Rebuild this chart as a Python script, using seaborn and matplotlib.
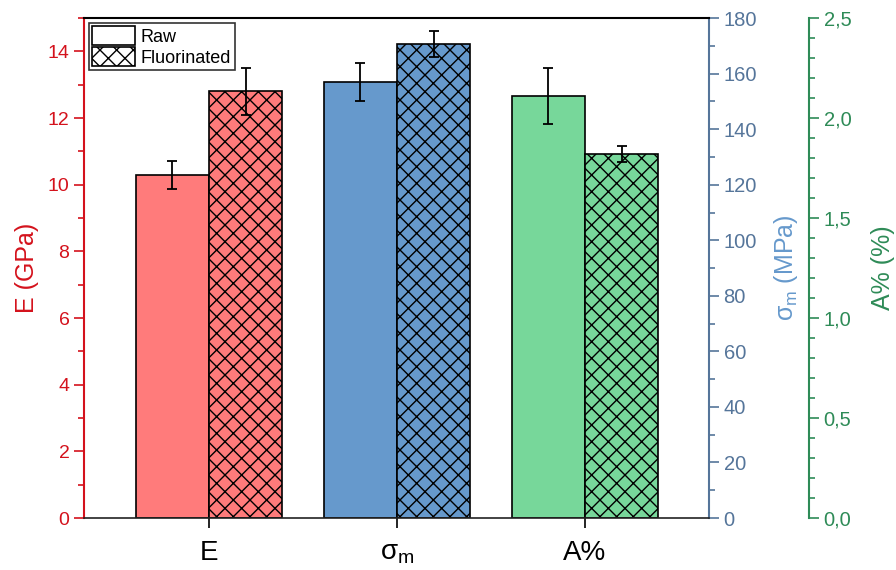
import seaborn as sns
import matplotlib.pyplot as plt
from matplotlib.ticker import MultipleLocator, FuncFormatter
from matplotlib.patches import Patch
import pandas as pd

# ---------- data ----------
props = ['E', 'σm', 'A%']
conds = ['Raw', 'Fluorinated']
E_mean = [10.3, 12.8]
E_err = [0.42, 0.70]
sig_mean = [157.0, 170.6]
sig_err = [6.7, 4.6]
A_mean = [2.11, 1.818]
A_err = [0.14, 0.04]

red = '#FF7B7B'
blue = '#6699CC'
green = '#77D79A'
c_red = '#D4121C'
c_blue = '#55759A'
c_blue_lbl = '#6699CC'
c_green = '#2E8B57'

sns.set_style('ticks')
plt.rcParams['font.family'] = ['Liberation Sans', 'DejaVu Sans']
plt.rcParams['mathtext.fontset'] = 'custom'
plt.rcParams['mathtext.rm'] = 'Liberation Sans'
plt.rcParams['mathtext.it'] = 'Liberation Sans'
plt.rcParams['hatch.linewidth'] = 1.0
plt.rcParams['text.color'] = 'black'

fig = plt.figure(figsize=(8.96, 5.70), dpi=100)
ax1 = fig.add_axes([0.09375, 0.0912, 0.6975, 0.877])
ax2 = ax1.twinx()
ax3 = ax1.twinx()
ax3.spines['right'].set_position(('axes', 1.16))

width = 0.78


def draw(ax, prop, means, errs, color):
    df = pd.DataFrame({'prop': [prop] * 2, 'cond': conds, 'val': means})
    sns.barplot(data=df, x='prop', y='val', hue='cond', order=props,
                hue_order=conds, width=width, errorbar=None, ax=ax,
                palette=[color, color], saturation=1, edgecolor='black',
                linewidth=1.2, legend=False)
    bars = [p for p in ax.patches if p.get_height() > 0]
    bars.sort(key=lambda p: p.get_x())
    for b, m, e, h in zip(bars, means, errs, ['', 'xx']):
        b.set_hatch(h)
        ax.errorbar(b.get_x() + b.get_width() / 2, m, yerr=e, fmt='none',
                    ecolor='black', elinewidth=1.3, capsize=3.5, capthick=1.3)


draw(ax1, 'E', E_mean, E_err, red)
draw(ax2, 'σm', sig_mean, sig_err, blue)
draw(ax3, 'A%', A_mean, A_err, green)

ax1.set_xlim(-0.665, 2.66)
ax1.set_xticks([0, 1, 2])
ax1.set_xticklabels(['E', r'σ$_\mathregular{m}$', 'A%'], fontsize=20, color='black')
ax1.set_xlabel('')

ax1.set_ylim(0, 15)
ax2.set_ylim(0, 180)
ax3.set_ylim(0, 2.5)
ax1.yaxis.set_major_locator(MultipleLocator(2))
ax1.yaxis.set_minor_locator(MultipleLocator(1))
ax2.yaxis.set_major_locator(MultipleLocator(20))
ax2.yaxis.set_minor_locator(MultipleLocator(10))
ax3.yaxis.set_major_locator(MultipleLocator(0.5))
ax3.yaxis.set_minor_locator(MultipleLocator(0.1))
ax3.yaxis.set_major_formatter(FuncFormatter(lambda v, p: f'{v:.1f}'.replace('.', ',')))

ax1.set_ylabel('E (GPa)', color=c_red, fontsize=18, labelpad=6)
ax2.set_ylabel(r'σ$_\mathregular{m}$ (MPa)', color=c_blue_lbl, fontsize=18, labelpad=11)
ax3.set_ylabel('A% (%)', color=c_green, fontsize=18, labelpad=14)

for ax in (ax1, ax2, ax3):
    for s in ax.spines.values():
        s.set_visible(False)

ax1.spines['left'].set_visible(True)
ax1.spines['left'].set_color(c_red)
ax1.spines['left'].set_linewidth(1.5)
ax1.spines['top'].set_visible(True)
ax1.spines['top'].set_color('black')
ax1.spines['top'].set_linewidth(1.5)
ax1.spines['bottom'].set_visible(True)
ax1.spines['bottom'].set_color('#222222')
ax1.spines['bottom'].set_linewidth(1.2)
ax2.spines['right'].set_visible(True)
ax2.spines['right'].set_color(c_blue)
ax2.spines['right'].set_linewidth(1.5)
ax3.spines['right'].set_visible(True)
ax3.spines['right'].set_color(c_green)
ax3.spines['right'].set_linewidth(1.5)

ax1.tick_params(axis='y', which='both', colors=c_red, labelsize=14, width=1.2)
ax1.tick_params(axis='y', which='major', length=7)
ax1.tick_params(axis='y', which='minor', length=4)
ax1.tick_params(axis='x', length=7, width=1.2, pad=9, colors='black')
ax2.tick_params(axis='y', which='both', colors=c_blue, labelsize=14.5, width=1.2)
ax2.tick_params(axis='y', which='major', length=7)
ax2.tick_params(axis='y', which='minor', length=4)
ax3.tick_params(axis='y', which='both', colors=c_green, labelsize=14.5, width=1.2)
ax3.tick_params(axis='y', which='major', length=7)
ax3.tick_params(axis='y', which='minor', length=4)

handles = [Patch(facecolor='white', edgecolor='black', linewidth=1.2, label='Raw'),
           Patch(facecolor='white', edgecolor='black', linewidth=1.2, hatch='xx',
                 label='Fluorinated')]
leg = ax1.legend(handles=handles, loc='upper left', fontsize=13, frameon=True,
                 fancybox=False, edgecolor='black', borderpad=0.2,
                 handlelength=2.4, handleheight=1.2, handletextpad=0.3,
                 labelspacing=0.1, borderaxespad=0.25)
leg.get_frame().set_linewidth(1.2)
for t in leg.get_texts():
    t.set_color('black')
ax3.set_zorder(0)
ax1.set_zorder(3)
ax1.patch.set_visible(False)

fig.savefig('out.png', dpi=100)
